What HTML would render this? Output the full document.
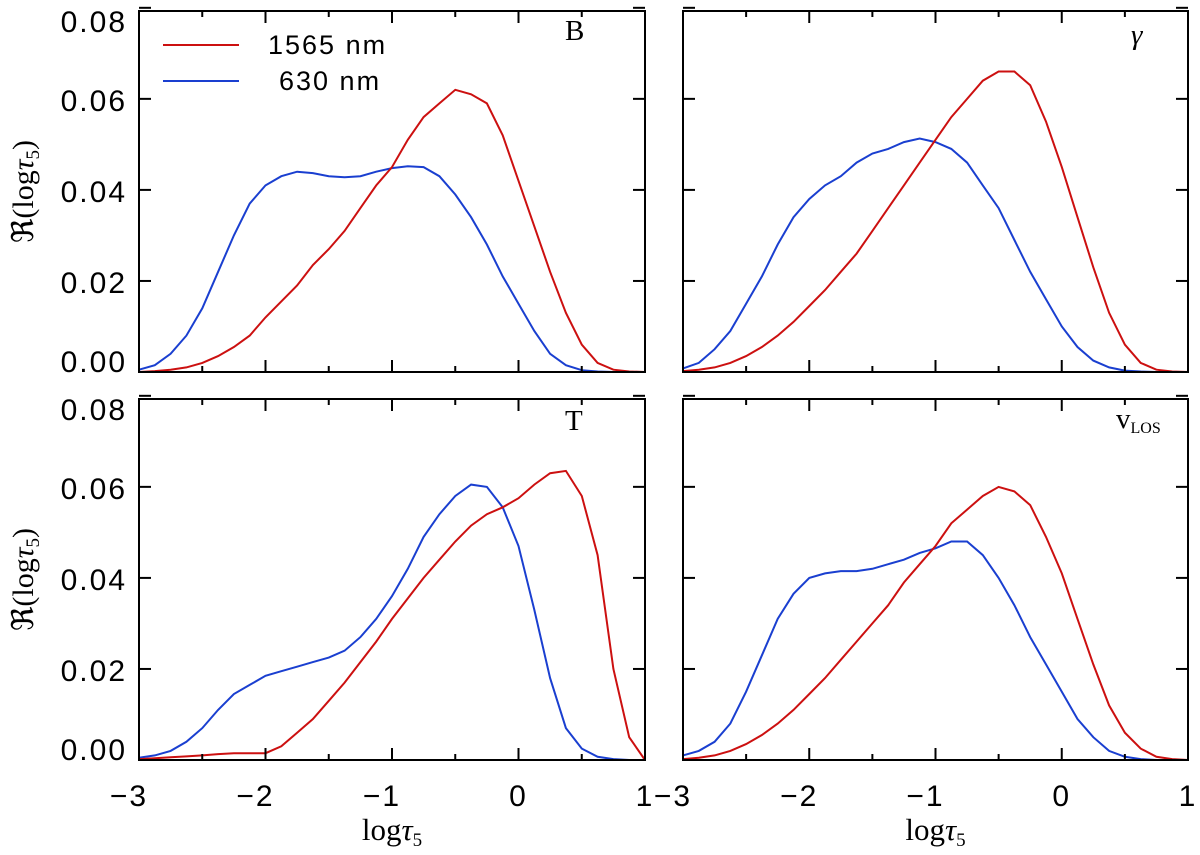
<!DOCTYPE html>
<html><head><meta charset="utf-8"><style>
html,body{margin:0;padding:0;background:#fff;}
svg{display:block;}
text{font-family:"Liberation Serif",serif;fill:#000;}
.num{font-family:"Liberation Sans",sans-serif;letter-spacing:2px;}
</style></head><body>
<svg id="chart" width="1200" height="855" viewBox="0 0 1200 855"></svg>
<script>
const xs = [];
for (let i = 0; i <= 32; i++) xs.push(-3 + i * 0.125);
const xTicks = [-3, -2, -1, 0, 1];
const yTicks = [0, 0.02, 0.04, 0.06, 0.08];
const yTickLabels = ["0.00", "0.02", "0.04", "0.06", "0.08"];
const bRed = [0,0.0002,0.0005,0.001,0.002,0.0035,0.0055,0.008,0.012,0.0155,0.019,0.0235,0.027,0.031,0.036,0.041,0.045,0.051,0.056,0.059,0.062,0.061,0.059,0.052,0.042,0.032,0.022,0.013,0.006,0.002,0.0005,0.0001,0];
const bBlue = [0.0005,0.0015,0.004,0.008,0.014,0.022,0.03,0.037,0.041,0.043,0.044,0.0437,0.043,0.0428,0.043,0.044,0.0448,0.0452,0.045,0.043,0.039,0.034,0.028,0.021,0.015,0.009,0.004,0.0015,0.0004,0.0001,0,0,0];
const gRed = [0.0002,0.0005,0.001,0.002,0.0035,0.0055,0.008,0.011,0.0145,0.018,0.022,0.026,0.031,0.036,0.041,0.046,0.051,0.056,0.060,0.064,0.066,0.066,0.063,0.055,0.045,0.034,0.023,0.013,0.006,0.002,0.0005,0.0001,0];
const gBlue = [0.0008,0.002,0.005,0.009,0.015,0.021,0.028,0.034,0.038,0.041,0.043,0.046,0.048,0.049,0.0505,0.0513,0.0505,0.049,0.046,0.041,0.036,0.029,0.022,0.016,0.010,0.0055,0.0025,0.001,0.0003,0.0001,0,0,0];
const tRed = [0.0002,0.0004,0.0006,0.0008,0.001,0.0013,0.0015,0.0015,0.0015,0.003,0.006,0.009,0.013,0.017,0.0215,0.026,0.031,0.0355,0.04,0.044,0.048,0.0515,0.054,0.0555,0.0575,0.0605,0.063,0.0635,0.058,0.045,0.02,0.005,0];
const tBlue = [0.0005,0.001,0.002,0.004,0.007,0.011,0.0145,0.0165,0.0185,0.0195,0.0205,0.0215,0.0225,0.024,0.027,0.031,0.036,0.042,0.049,0.054,0.058,0.0605,0.06,0.0555,0.047,0.033,0.018,0.007,0.0025,0.0007,0.0002,0,0];
const vRed = [0.0002,0.0005,0.001,0.002,0.0035,0.0055,0.008,0.011,0.0145,0.018,0.022,0.026,0.030,0.034,0.039,0.043,0.047,0.052,0.055,0.058,0.06,0.059,0.056,0.049,0.041,0.031,0.021,0.012,0.006,0.0025,0.0007,0.0002,0];
const vBlue = [0.001,0.002,0.004,0.008,0.015,0.023,0.031,0.0365,0.04,0.041,0.0415,0.0415,0.042,0.043,0.044,0.0455,0.0465,0.048,0.048,0.045,0.04,0.034,0.027,0.021,0.015,0.009,0.005,0.002,0.0007,0.0002,0,0,0];

const NS = "http://www.w3.org/2000/svg";
const svg = document.getElementById("chart");
function mk(tag, attrs, parent) {
  const e = document.createElementNS(NS, tag);
  for (const k in attrs) e.setAttribute(k, attrs[k]);
  (parent || svg).appendChild(e);
  return e;
}
const panels = [
  {name: "panel-b", x0: 139, x1: 645, y0: 11, y1: 372, red: bRed, blue: bBlue, ylab: true, xlab: false, label: "B", lx: 565, ly: 40},
  {name: "panel-gamma", x0: 683, x1: 1188, y0: 11, y1: 372, red: gRed, blue: gBlue, ylab: false, xlab: false, label: "γ", lx: 1131, ly: 44},
  {name: "panel-t", x0: 139, x1: 645, y0: 399, y1: 760, red: tRed, blue: tBlue, ylab: true, xlab: true, label: "T", lx: 565, ly: 430},
  {name: "panel-vlos", x0: 683, x1: 1188, y0: 399, y1: 760, red: vRed, blue: vBlue, ylab: false, xlab: true, label: "v", lx: 1116, ly: 428}
];
const YMAX = 0.0793;
panels.forEach(p => {
  const g = mk("g", {});
  
  
  const sx = v => p.x0 + (v + 3) / 4 * (p.x1 - p.x0);
  const sy = v => p.y1 - v / YMAX * (p.y1 - p.y0);
  [[p.blue, "#1a3fd0", "630"], [p.red, "#cc1010", "1565"]].forEach(s => {
    const d = s[0].map((v, i) => (i ? "L" : "M") + sx(xs[i]).toFixed(1) + "," + sy(v).toFixed(1)).join("");
    const path = mk("path", {d: d, fill: "none", stroke: s[1], "stroke-width": 2}, g);
    
    
  });
  const fr = mk("rect", {x: p.x0, y: p.y0, width: p.x1 - p.x0, height: p.y1 - p.y0, fill: "none", stroke: "#000", "stroke-width": 2}, g);
  
  
  for (let v = -3; v <= 1.001; v += 0.5) {
    const L = Math.abs(v - Math.round(v)) < 1e-6 ? 12 : 6;
    mk("line", {x1: sx(v), x2: sx(v), y1: p.y1, y2: p.y1 - L, stroke: "#000", "stroke-width": 2}, g);
    mk("line", {x1: sx(v), x2: sx(v), y1: p.y0, y2: p.y0 + L, stroke: "#000", "stroke-width": 2}, g);
  }
  yTicks.forEach((v, i) => {
    mk("line", {x1: p.x0, x2: p.x0 + 12, y1: sy(v), y2: sy(v), stroke: "#000", "stroke-width": 2}, g);
    mk("line", {x1: p.x1, x2: p.x1 - 12, y1: sy(v), y2: sy(v), stroke: "#000", "stroke-width": 2}, g);
    if (p.ylab) {
      const t = mk("text", {x: p.x0 - 12, y: Math.min(Math.max(sy(v) + 12, p.y0 + 21), p.y1), "text-anchor": "end", "font-size": 30, class: "num"}, g);
      t.textContent = yTickLabels[i];
      
      
    }
  });
  if (p.xlab) {
    xTicks.forEach(v => {
      const t = mk("text", {x: sx(v) + (v < 0 ? -10 : 0), y: 806, "text-anchor": "middle", "font-size": 30, class: "num"}, g);
      t.textContent = v < 0 ? "\u2212" + (-v) : String(v);
      
      
    });
    const xt = mk("text", {x: (p.x0 + p.x1) / 2, y: 840, "text-anchor": "middle", "font-size": 31}, g);
    xt.innerHTML = 'log<tspan font-style="italic">τ</tspan><tspan font-size="19" dy="6">5</tspan>';
    
    
  }
  if (p.ylab) {
    const cy = (p.y0 + p.y1) / 2;
    const yt = mk("text", {x: 0, y: 0, transform: "translate(33," + cy + ") rotate(-90)", "text-anchor": "middle", "font-size": 30}, g);
    yt.innerHTML = 'ℜ(log<tspan font-style="italic">τ</tspan><tspan font-size="19" dy="6">5</tspan><tspan dy="-6">)</tspan>';
    
    
  }
  const pl = mk("text", {x: p.lx, y: p.ly, "font-size": 29, "font-style": p.label === "γ" ? "italic" : "normal"}, g);
  if (p.label === "v") pl.innerHTML = 'v<tspan font-size="16" dy="5">LOS</tspan>';
  else pl.textContent = p.label;
  
  
});
const lg = mk("g", {});


mk("line", {x1: 163, x2: 239, y1: 45, y2: 45, stroke: "#cc1010", "stroke-width": 2}, lg);
mk("line", {x1: 163, x2: 239, y1: 81, y2: 81, stroke: "#1a3fd0", "stroke-width": 2}, lg);
const l1 = mk("text", {x: 268, y: 54, "font-size": 27, class: "num", "xml:space": "preserve"}, lg);
l1.textContent = "1565 nm";


const l2 = mk("text", {x: 279, y: 90, "font-size": 27, class: "num"}, lg);
l2.textContent = "630 nm";


</script>
</body></html>
